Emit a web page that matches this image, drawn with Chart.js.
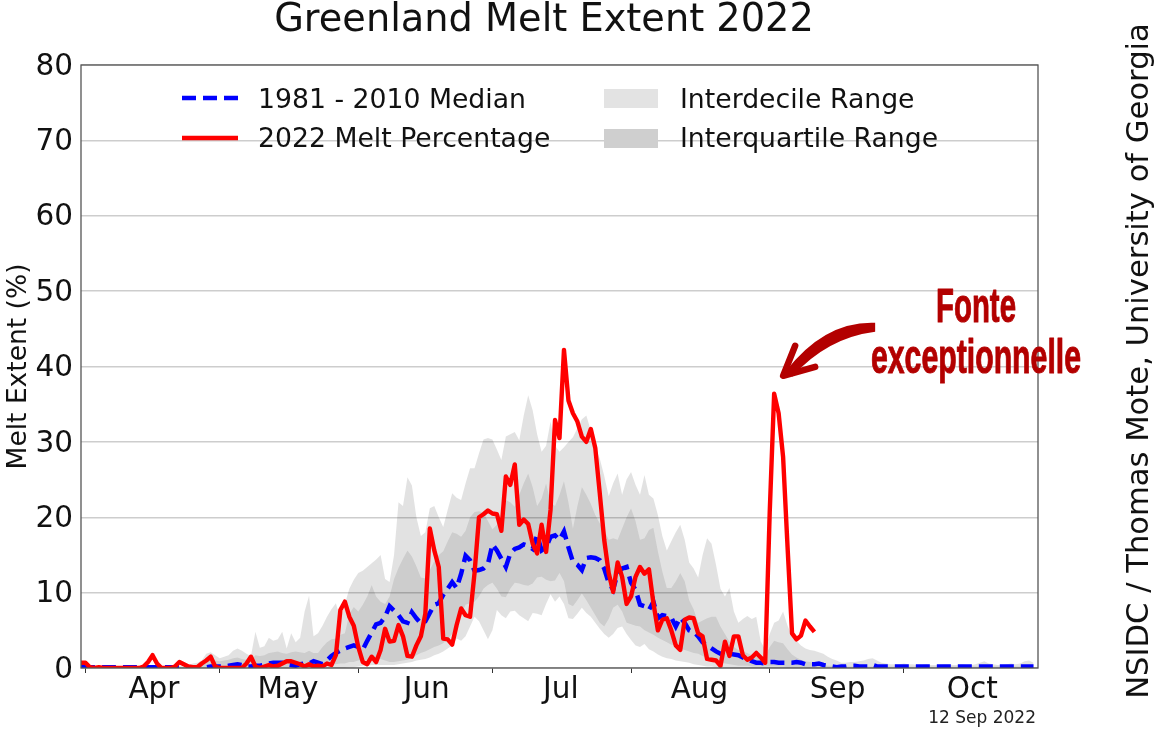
<!DOCTYPE html>
<html><head><meta charset="utf-8">
<style>html,body{margin:0;padding:0;background:#fff}canvas{display:block}</style>
<script src="https://cdn.jsdelivr.net/npm/chart.js@4"></script>
</head><body>
<canvas id="c" width="1160" height="732"></canvas>
<script>
// Daily series, first value is 31 Mar (day -1), 1 Apr is day 0.
const firstDay = -1;
const melt2022 = [
.7,.7,.1,0,.1,0,0,0,0,0,
0,0,0,0,.2,.8,1.7,.6,0,0,
0,.2,.8,.5,.2,.1,.1,.6,1,1.5,
.2,0,0,0,0,0,0,.6,1.5,.2,
0,.2,.4,.2,.3,.6,.9,.9,.7,.5,
.2,.5,.2,.3,.2,.6,.4,1.7,7.7,8.8,
6.8,5.6,2.8,.8,.5,1.5,.8,2.4,5.2,3.5,
3.6,5.7,4.2,1.6,1.5,3,4.2,7.2,18.5,15.6,
13.4,3.9,3.8,3.1,5.7,7.9,7,6.8,12.6,20,
20.4,20.9,20.5,20.4,18.2,25.4,24.3,27,19,19.7,
19.1,16.5,15.2,19,15.4,21,32.9,30.5,42.2,35.5,
33.8,32.7,30.7,30,31.7,29.2,23.2,17,12.6,10.1,
14,12.1,8.5,9.5,12.1,13.4,12.5,13.1,8.6,5,
6.4,6.6,5,3,2.4,6.4,6.7,6.6,4.6,4.2,
1.2,1.1,1,.3,3.5,1.6,4.2,4.2,1.7,1.1,
1.4,2,1.4,.7,20.5,36.4,33.8,28,16,4.6,
3.8,4.3,6.3,5.5,4.8];
const median = [
.2,.2,.1,.1,.1,.1,.1,.1,.1,.1,
.1,.1,.1,.1,.1,.1,.1,.1,.1,.1,
.1,.1,.1,.1,.1,.1,.1,.1,.1,.2,
.2,.2,.2,.3,.4,.5,.4,.2,.2,.3,
.3,.4,.6,.7,.7,.7,.5,.4,.3,.5,
.6,.6,.9,.7,.5,1,1.6,2,2.3,2.6,
2.8,3,2.8,2.4,3.6,4.7,5.8,6,6.8,8.2,
7.6,7,6.2,6,7.4,6.6,5.9,6.2,7.3,8.4,
8.6,9.7,10.5,11.4,10.6,12.5,14.9,14.3,12.9,13,
13.2,13.8,16.4,15.6,14.5,13.4,15.2,15.8,16,16.4,
16.2,15.8,17.6,15.6,16,17.4,17.6,17,18.1,16,
14.1,13.7,13,14.6,14.7,14.6,14.3,13.2,11.3,10.4,
12.6,13.2,13.4,11.3,10.4,8.4,8.2,7.7,8.8,6.6,
7,6.9,6.7,5.5,6.7,6,5,4.8,4.2,3.4,
3,2.6,2.2,1.9,1.9,1.9,1.8,1.7,1.4,1.2,
.9,.7,.7,.6,.8,.8,.7,.7,.7,.7,
.8,.7,.5,.5,.5,.6,.4,.3,.2,.1,
.2,.2,.3,.3,.2,.2,.2,.4,.2,.2,
.2,.2,.2,.2,.2,.2,.2,.2,.2,.2,
.2,.2,.2,.2,.2,.2,.2,.2,.2,.2,
.2,.2,.2,.2,.2,.2,.2,.2,.2,.2,
.2,.2,.2,.2];
const p90 = [
0,0,0,0,0,0,0,0,0,0,
0,0,0,0,0,0,0,0,0,0,
.1,.2,.3,.4,.4,.6,.7,1,1.9,2.1,
1.7,1.3,1.5,1.7,2.3,2.6,2.3,1.9,1.6,4.8,
2.7,2.9,4,3.6,3.8,4.8,2.6,4.6,3.4,4,
7.5,9.6,4.2,4.6,5.6,6.8,7.8,8.6,6.5,8.5,
10.5,11.7,12.6,12.9,13.4,13.9,14.4,15,11.8,11.4,
15,22,21.5,25.3,24.2,20,17.5,18,21.2,21.5,
20,18.7,21,23.2,22.6,22.3,24.5,26.5,26.5,28.5,
30.3,30.5,30.3,29,27.6,30.7,31,31.3,30.2,33.5,
36.2,34.2,31,28.7,29.5,32.7,29.5,28.7,29.3,30,
30.6,31.8,33,33.5,31.5,29.3,27.8,25.5,22.8,24.5,
25.8,23,25,26,24.3,23,25.6,23,22.5,20.3,
17.5,15.6,16.8,18,19,17,14,13.2,12,15,
17.2,16.5,13.7,10.5,9.5,10.6,7.5,6,6.5,6.9,
6.5,6.8,3.5,2.5,4.5,6,6.3,7.5,5.6,4.2,
3.6,3,2.6,2.4,2.3,2.1,1.9,1.5,1.2,1,
.7,.7,.8,.8,.9,1,1.2,1.3,1,.7,
.6,.5,.5,.5,.6,.5,.5,.4,.4,.5,
.4,.4,.4,.5,.5,.4,.4,.5,.4,.4,
.5,.7,.9,.6,.5,.4,.4,.5,.6,.5,
.6,.9,1,.7];
const p75 = [
0,0,0,0,0,0,0,0,0,0,
0,0,0,0,0,0,0,0,0,0,
0,0,.1,.1,.2,.2,.3,.5,.9,1,
1,.9,1,1.1,1.3,1.4,1.2,1.1,1,1.7,
1.6,1.7,2,2.1,2.2,2,1.9,2.1,2.2,2.1,
2,2.3,2,2,2.8,3.4,3.8,3.9,4.4,4.6,
7.2,8.1,7.5,8.4,9.5,11,9.5,8.8,8.5,9.5,
11.8,13.3,14.5,15.6,14.8,13.5,12,11.9,13,14.2,
15,15.5,16.8,18,17.8,17.4,18.2,20,20.7,20.8,
20.6,19.5,18.4,19,20.5,22.3,22,21.4,23,24.5,
25.8,24,21.5,22.5,24.5,22,21.5,23,24.8,22,
18.5,21.5,24,23,21.8,20.3,19.2,18.3,17,17.2,
17,18.5,20,21.2,19.5,17,17.2,18.3,18.6,15.5,
12.8,10.6,10.6,11.5,12.6,11.5,9,7.8,6,6.3,
6.6,6.8,6.8,5.5,4.5,3.5,2.8,2.4,2.2,2,
1.7,1.5,1.2,1.5,2.8,3.6,3.4,3.3,2.5,1.8,
1.4,1.1,.9,.8,.6,.5,.4,.3,.3,.2,
.2,.2,.2,.2,.2,.2,.2,.2,.2,.2,
.2,.2,.2,.2,.2,.2,.2,.2,.2,.2,
.2,.2,.2,.2,.2,.2,.2,.2,.2,.2,
.2,.2,.2,.2,.2,.2,.2,.2,.2,.2,
.2,.2,.2,.2];
const p25 = [
0,0,0,0,0,0,0,0,0,0,
0,0,0,0,0,0,0,0,0,0,
0,0,0,0,0,0,0,0,0,0,
.1,.1,.1,.1,.1,.1,.1,.1,.1,.1,
.1,.1,.1,.1,.1,.1,.1,.1,.1,.1,
.1,.2,.2,.3,.3,.4,.5,.5,.6,.6,
.8,.8,1,1,1.1,1.2,1.3,1.2,1,.8,
.8,.9,1,1.1,1.3,1.7,2,2.2,2.5,2.8,
3,3.3,3.8,4.5,5.8,7,8.4,8.6,8.8,9.5,
10.5,11,11.3,10.5,9.5,9.4,10.5,11.3,11.2,11,
10.9,11.2,12,12.1,11.7,11.5,11.6,12.6,11.5,8.5,
8.2,9,9.9,9,8,7,6,5.5,6.5,8,
8.4,7.5,6,5.8,5.6,5.5,5,4.7,4.4,4,
3.7,3.4,3.1,3,2.6,2.4,2.2,2,1.9,1.6,
1.3,1.1,.9,.7,.6,.5,.4,.3,.3,.3,
.2,.2,.2,.2,.2,.2,.2,.2,.1,.1,
.1,.1,.1,.1,.1,.1,.1,.1,.1,.1,
.1,.1,.1,.1,.1,.1,.1,.1,.1,.1,
.1,.1,.1,.1,.1,.1,.1,.1,.1,.1,
.1,.1,.1,.1,.1,.1,.1,.1,.1,.1,
.1,.1,.1,.1,.1,.1,.1,.1,.1,.1,
.1,.1,.1,.1];
const p10 = [
0,0,0,0,0,0,0,0,0,0,
0,0,0,0,0,0,0,0,0,0,
0,0,0,0,0,0,0,0,0,0,
0,0,0,0,0,0,0,0,0,0,
0,0,0,0,0,0,0,0,0,0,
0,0,0,0,0,0,0,0,0,0,
.1,.1,.2,.3,.3,.4,.4,.4,.4,.4,
.4,.5,.6,.7,.8,1,1.1,1.2,1.4,1.7,
1.9,2.2,2.6,3,3.9,3.6,4.2,5.5,6.8,6.2,
5,3.8,5,7.7,7,6.6,7.5,7.6,7,6.6,
6.2,7.3,7.2,7,8.5,9.8,8.8,9.5,8.5,6.6,
6.5,7.2,8,7.3,6.8,6,5.2,4.5,4,4.5,
5.3,5.5,4.5,3.7,3,2.8,3.2,2.5,2.2,1.8,
1.5,1.3,1.2,1,.9,.8,.7,.5,.4,.3,
.2,.2,.1,.1,.1,.1,.1,.1,.1,.1,
0,0,0,0,0,0,0,0,0,0,
0,0,0,0,0,0,0,0,0,0,
0,0,0,0,0,0,0,0,0,0,
0,0,0,0,0,0,0,0,0,0,
0,0,0,0,0,0,0,0,0,0,
0,0,0,0,0,0,0,0,0,0,
0,0,0,0];
const monthStarts = [0,30,61,91,122,153,183];
const monthCenters = [15.3,45.3,76.3,106.3,137.3,168.2,198.3];
const monthLabels = ['Apr','May','Jun','Jul','Aug','Sep','Oct'];
const yTicks = [0,10,20,30,40,50,60,70,80];
const titleText = 'Greenland Melt Extent 2022';
const yTitle = 'Melt Extent (%)';
const credit = 'NSIDC / Thomas Mote, University of Georgia';
const dateStamp = '12 Sep 2022';
const noteLines = ['Fonte','exceptionnelle'];
const noteDay = 154, noteValue = 38.5;

const FONT = '"DejaVu Sans", sans-serif';
const toXY = a => a.map((v,i)=>({x:i+firstDay,y:v}));
const DECILE = 'rgba(0,0,0,0.115)', QUART = 'rgba(0,0,0,0.095)';
const NOTE = '#b30000';
const DASH = [14,7];

const extras = {
  id:'extras',
  beforeDraw(chart){
    const s = chart.scales.y, items = s.getLabelItems(chart.chartArea);
    if (s._nudged !== items){ items.forEach(i=>{i.options.translation[1]+=2;}); s._nudged = items; }
  },
  afterDraw(chart){
    const {ctx,chartArea:a,scales} = chart;
    ctx.save();
    // frame
    ctx.strokeStyle='#555'; ctx.lineWidth=1.3;
    ctx.strokeRect(a.left,a.top,a.right-a.left,a.bottom-a.top);
    // legend
    const ds = chart.data.datasets;
    ctx.textBaseline='middle'; ctx.textAlign='left'; ctx.fillStyle='#111';
    ctx.font='26.7px '+FONT;
    ctx.lineWidth=4.5; ctx.strokeStyle='#0000ff'; ctx.setLineDash(DASH);
    ctx.beginPath(); ctx.moveTo(182,98); ctx.lineTo(238,98); ctx.stroke();
    ctx.strokeStyle='#ff0000'; ctx.setLineDash([]);
    ctx.beginPath(); ctx.moveTo(182,138); ctx.lineTo(238,138); ctx.stroke();
    ctx.fillText(ds[1].label,258,101.5); ctx.fillText(ds[0].label,258,140.5);
    ctx.fillStyle='#e3e3e3'; ctx.fillRect(604,89,54,19);
    ctx.fillStyle='#cfcfcf'; ctx.fillRect(604,129,54,19);
    ctx.fillStyle='#111';
    ctx.fillText(ds[2].label,680,101.5); ctx.fillText(ds[4].label,680,140.5);
    // date
    ctx.font='17px '+FONT; ctx.textAlign='right'; ctx.fillStyle='#222';
    ctx.fillText(dateStamp,1036,719);
    // credit
    ctx.save(); ctx.translate(1140,361); ctx.rotate(-Math.PI/2);
    ctx.textAlign='center'; ctx.font='30.6px '+FONT; ctx.fillStyle='#111';
    ctx.fillText(credit,0,0); ctx.restore();
    // arrow anchored on the late-season spike
    const ax = scales.x.getPixelForValue(noteDay)+7, ay = scales.y.getPixelForValue(noteValue)+0;
    ctx.fillStyle=NOTE; ctx.strokeStyle=NOTE; ctx.lineJoin='round'; ctx.lineCap='round';
    ctx.beginPath();
    ctx.moveTo(ax+94,ay-55);
    ctx.quadraticCurveTo(ax+44,ay-57,ax+5,ay-7);
    ctx.lineTo(ax+11,ay-1);
    ctx.quadraticCurveTo(ax+46,ay-40,ax+94,ay-46);
    ctx.closePath(); ctx.fill();
    ctx.beginPath();
    ctx.moveTo(ax+14,ay-32); ctx.lineTo(ax+2,ay-2); ctx.lineTo(ax+34,ay-11);
    ctx.lineWidth=6.5; ctx.stroke();
    // note text, condensed
    const put=(t,x0,x1,base)=>{
      ctx.save(); ctx.font='bold 49px "Liberation Sans Narrow","Liberation Sans",sans-serif';
      ctx.textAlign='left'; ctx.textBaseline='alphabetic'; ctx.fillStyle=NOTE; ctx.strokeStyle=NOTE; ctx.lineWidth=1;
      const w=ctx.measureText(t).width;
      ctx.translate(x0,base); ctx.scale((x1-x0)/w,1); ctx.fillText(t,0,0); ctx.strokeText(t,0,0); ctx.restore();
    };
    put(noteLines[0],936,1016,322);
    put(noteLines[1],871,1081,373);
    ctx.restore();
  }
};

new Chart(document.getElementById('c'),{
  type:'line',
  data:{datasets:[
    {label:'2022 Melt Percentage',data:toXY(melt2022),borderColor:'#ff0000',borderWidth:4.4,pointRadius:0,fill:false,tension:0,borderJoinStyle:'round'},
    {label:'1981 - 2010 Median',data:toXY(median),borderColor:'#0000ff',borderWidth:4.5,borderDash:DASH,pointRadius:0,fill:false,tension:0},
    {label:'Interdecile Range',data:toXY(p90),borderWidth:0,pointRadius:0,backgroundColor:DECILE,fill:{target:3},tension:0},
    {label:'10th percentile',data:toXY(p10),borderWidth:0,pointRadius:0,fill:false,tension:0},
    {label:'Interquartile Range',data:toXY(p75),borderWidth:0,pointRadius:0,backgroundColor:QUART,fill:{target:5},tension:0},
    {label:'25th percentile',data:toXY(p25),borderWidth:0,pointRadius:0,fill:false,tension:0}
  ]},
  plugins:[extras],
  options:{
    responsive:false,animation:false,devicePixelRatio:1,
    layout:{padding:{left:0,right:72,top:0,bottom:0}},
    plugins:{
      legend:{display:false},tooltip:{enabled:false},
      title:{display:true,text:titleText,color:'#111',font:{family:FONT,size:38.3,weight:'normal',lineHeight:1},padding:{top:2,bottom:24.7}}
    },
    scales:{
      x:{type:'linear',min:-1,max:213,
        afterBuildTicks(s){s.ticks=[...monthStarts,...monthCenters].sort((a,b)=>a-b).map(v=>({value:v}));},
        afterFit(s){s.height=64;},
        grid:{drawOnChartArea:false,drawTicks:true,tickLength:5,tickWidth:1,tickColor:c=>c.tick&&monthStarts.includes(c.tick.value)?'#333':'rgba(0,0,0,0)'},
        border:{display:false},
        ticks:{autoSkip:false,maxRotation:0,color:'#111',padding:0,font:{family:FONT,size:29.5},
          callback:v=>{const i=monthCenters.indexOf(v);return i<0?'':monthLabels[i];}}
      },
      y:{min:0,max:80,
        afterBuildTicks(s){s.ticks=yTicks.map(v=>({value:v}));},
        afterFit(s){s.width=81;},
        grid:{color:'#cdcdcd',lineWidth:1.5,drawTicks:false},
        border:{display:false},
        ticks:{color:'#111',padding:8,font:{family:FONT,size:29.5}},
        title:{display:true,text:yTitle,color:'#111',font:{family:FONT,size:26.5},padding:{top:3,bottom:0}}
      },
      y2:{position:'right',display:true,min:0,max:80,
        afterFit(s){s.width=50;},
        grid:{display:false},border:{display:false},ticks:{display:false}}
    }
  }
});
</script>
</body></html>
